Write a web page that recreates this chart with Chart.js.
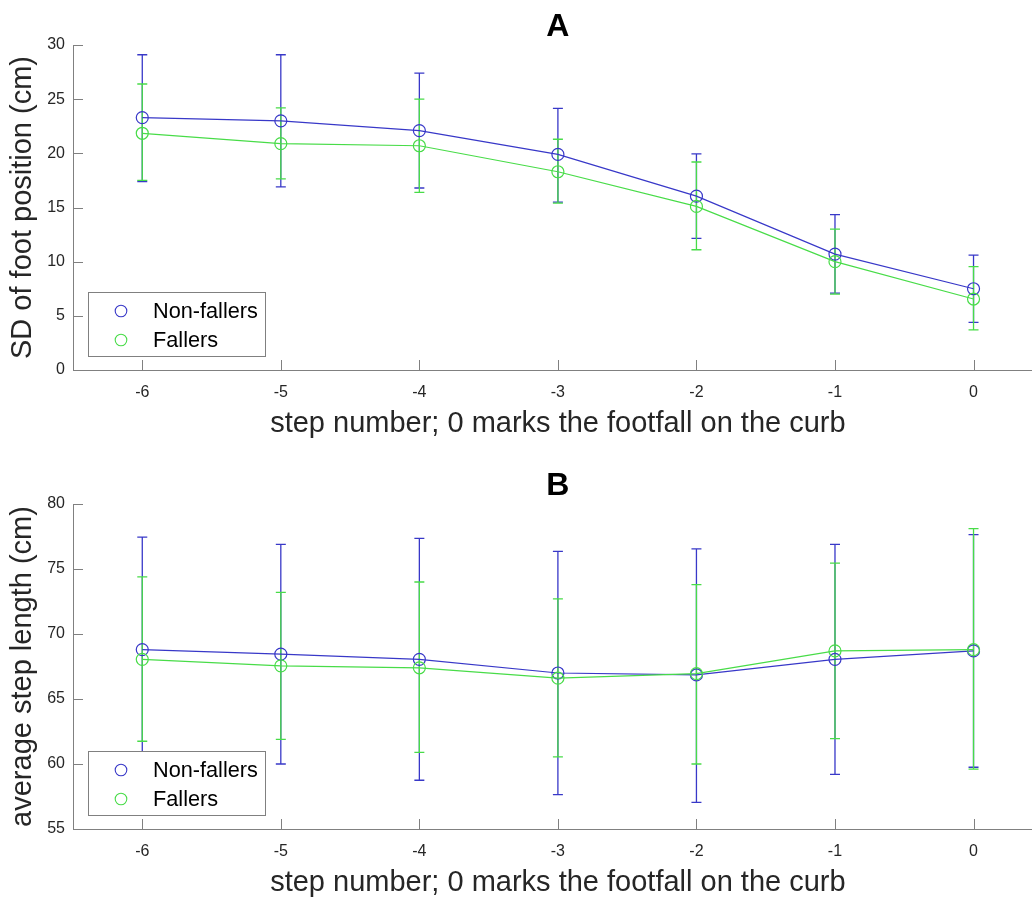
<!DOCTYPE html>
<html>
<head>
<meta charset="utf-8">
<script src="https://cdn.jsdelivr.net/npm/chart.js@4/dist/chart.umd.min.js"></script>
<style>
html, body { margin: 0; padding: 0; overflow: hidden; background: #fff; }
#wrap { position: relative; width: 1032px; height: 898px; overflow: hidden; background: #fff; }
#wrap canvas { position: absolute; left: 0; }
#cA { top: 0; }
#cB { top: 459px; }
</style>
</head>
<body>
<div id="wrap">
  <canvas id="cA" width="1050" height="459"></canvas>
  <canvas id="cB" width="1050" height="459"></canvas>
</div>
<script>
// ---- data ----
const steps = ['-6', '-5', '-4', '-3', '-2', '-1', '0'];
const seriesNames = ['Non-fallers', 'Fallers'];

// Panel A: SD of foot position (cm)
const aNonFallersMean  = [23.3, 23.0, 22.1, 19.9, 16.05, 10.7, 7.5];
const aNonFallersUpper = [29.1, 29.1, 27.4, 24.15, 19.95, 14.35, 10.6];
const aNonFallersLower = [17.4, 16.9, 16.8, 15.5, 12.15, 7.1, 4.4];
const aFallersMean     = [21.85, 20.9, 20.7, 18.3, 15.1, 10.0, 6.55];
const aFallersUpper    = [26.4, 24.2, 25.0, 21.3, 19.2, 13.0, 9.55];
const aFallersLower    = [17.5, 17.65, 16.4, 15.4, 11.1, 7.0, 3.7];
const aYTicks = [0, 5, 10, 15, 20, 25, 30];

// Panel B: average step length (cm)
const bNonFallersMean  = [68.8, 68.45, 68.05, 67.0, 66.85, 68.05, 68.7];
const bNonFallersUpper = [77.45, 76.9, 77.35, 76.35, 76.55, 76.9, 77.65];
const bNonFallersLower = [60.1, 60.0, 58.75, 57.65, 57.05, 59.2, 59.75];
const bFallersMean     = [68.05, 67.55, 67.4, 66.6, 66.95, 68.7, 68.8];
const bFallersUpper    = [74.4, 73.2, 74.0, 72.7, 73.8, 75.45, 78.1];
const bFallersLower    = [61.75, 61.9, 60.9, 60.55, 60.0, 61.95, 59.6];
const bYTicks = [55, 60, 65, 70, 75, 80];

const xTitle = 'step number; 0 marks the footfall on the curb';

// ---- styles ----
const BLUE = '#3838c8';
const GREEN = '#48dc48';
const AXIS = '#808080';
const TEXT = '#262626';
const FONT = "'Liberation Sans', Arial, Helvetica, sans-serif";

// error bars, drawn under the lines
const errorBarPlugin = {
  id: 'errorBars',
  beforeDatasetsDraw(chart) {
    const { ctx, scales: { x, y } } = chart;
    chart.data.datasets.forEach(ds => {
      ctx.save();
      ctx.strokeStyle = ds.borderColor;
      ctx.lineWidth = 1.3;
      ds.errUpper.forEach((u, i) => {
        const px = x.getPixelForValue(i);
        const yu = y.getPixelForValue(u);
        const yl = y.getPixelForValue(ds.errLower[i]);
        ctx.beginPath();
        ctx.moveTo(px, yu); ctx.lineTo(px, yl);
        ctx.moveTo(px - 5, yu); ctx.lineTo(px + 5, yu);
        ctx.moveTo(px - 5, yl); ctx.lineTo(px + 5, yl);
        ctx.stroke();
      });
      ctx.restore();
    });
  }
};

// inward tick marks (MATLAB style) and the panel letter centred on the plot
const axesDecorPlugin = {
  id: 'axesDecor',
  afterDraw(chart, args, opts) {
    const { ctx, chartArea, scales: { x, y } } = chart;
    ctx.save();
    ctx.strokeStyle = AXIS;
    ctx.lineWidth = 1;
    ctx.beginPath();
    x.ticks.forEach((t, i) => {
      const px = Math.round(x.getPixelForTick(i)) + 0.5;
      ctx.moveTo(px, chartArea.bottom);
      ctx.lineTo(px, chartArea.bottom - 10);
    });
    y.ticks.forEach((t, i) => {
      const py = Math.round(y.getPixelForTick(i)) + 0.5;
      ctx.moveTo(chartArea.left, py);
      ctx.lineTo(chartArea.left + 10, py);
    });
    ctx.stroke();
    // panel letter
    ctx.fillStyle = '#000';
    ctx.font = 'bold 32px ' + FONT;
    ctx.textAlign = 'center';
    ctx.textBaseline = 'alphabetic';
    ctx.fillText(opts.text, (chartArea.left + chartArea.right) / 2, chartArea.top - 9.5);
    ctx.restore();
  }
};

// boxed legend inside the lower-left corner of the plot
const boxLegendPlugin = {
  id: 'boxLegend',
  afterDraw(chart) {
    const { ctx, chartArea } = chart;
    const left = chartArea.left + 15;
    const top = chartArea.bottom - 78;
    const w = 177, h = 64;
    ctx.save();
    ctx.fillStyle = '#fff';
    ctx.fillRect(left, top, w, h);
    ctx.strokeStyle = AXIS;
    ctx.lineWidth = 1;
    ctx.strokeRect(Math.round(left) + 0.5, Math.round(top) + 0.5, w, h);
    [0, 1].forEach((di, row) => {
      const ds = chart.data.datasets[di];
      const cy = top + 19 + row * 29;
      ctx.beginPath();
      ctx.strokeStyle = ds.borderColor;
      ctx.lineWidth = 1.1;
      ctx.arc(left + 33, cy, 5.8, 0, Math.PI * 2);
      ctx.stroke();
      ctx.fillStyle = '#000';
      ctx.font = '21.7px ' + FONT;
      ctx.textBaseline = 'middle';
      ctx.textAlign = 'left';
      ctx.fillText(ds.label, left + 65, cy + 1);
    });
    ctx.restore();
  }
};

function makeChart(id, title, yLabel, yTicks, nfMean, nfUp, nfLo, fMean, fUp, fLo) {
  const lineDs = (label, data, color, up, lo, order) => ({
    label, data,
    borderColor: color,
    backgroundColor: 'rgba(0,0,0,0)',
    borderWidth: 1.2,
    pointRadius: 6,
    pointHoverRadius: 6,
    pointBorderWidth: 1.2,
    pointBorderColor: color,
    pointBackgroundColor: 'rgba(0,0,0,0)',
    tension: 0,
    order,
    errUpper: up,
    errLower: lo
  });
  return new Chart(document.getElementById(id), {
    type: 'line',
    data: {
      labels: steps,
      datasets: [
        lineDs(seriesNames[0], nfMean, BLUE, nfUp, nfLo, 1),
        lineDs(seriesNames[1], fMean, GREEN, fUp, fLo, 0)
      ]
    },
    options: {
      responsive: false,
      animation: false,
      devicePixelRatio: 1,
      layout: { padding: { top: 45, left: 0, right: 0, bottom: 0 } },
      plugins: {
        legend: { display: false },
        tooltip: { enabled: false },
        title: { display: false },
        axesDecor: { text: title }
      },
      scales: {
        x: {
          type: 'category',
          offset: true,
          grid: { display: false, drawTicks: false },
          border: { display: true, color: AXIS, width: 1 },
          ticks: { color: TEXT, font: { family: FONT, size: 16 }, padding: 13, maxRotation: 0 },
          title: {
            display: true, text: xTitle, color: TEXT,
            font: { family: FONT, size: 29, lineHeight: 1.2 },
            padding: { top: 0, bottom: 17.6 }
          },
          afterFit(s) { s.height = 89; }
        },
        y: {
          min: yTicks[0],
          max: yTicks[yTicks.length - 1],
          afterBuildTicks(s) { s.ticks = yTicks.map(v => ({ value: v })); },
          grid: { display: false, drawTicks: false },
          border: { display: true, color: AXIS, width: 1 },
          ticks: { color: TEXT, font: { family: FONT, size: 16 }, padding: 8 },
          title: {
            display: true, text: yLabel, color: TEXT,
            font: { family: FONT, size: 29, lineHeight: 1.2 },
            padding: { top: 6, bottom: 0 }
          },
          afterFit(s) { s.width = 73; }
        }
      }
    },
    plugins: [errorBarPlugin, axesDecorPlugin, boxLegendPlugin]
  });
}

makeChart('cA', 'A', 'SD of foot position (cm)', aYTicks,
  aNonFallersMean, aNonFallersUpper, aNonFallersLower,
  aFallersMean, aFallersUpper, aFallersLower);
makeChart('cB', 'B', 'average step length (cm)', bYTicks,
  bNonFallersMean, bNonFallersUpper, bNonFallersLower,
  bFallersMean, bFallersUpper, bFallersLower);
</script>
</body>
</html>
